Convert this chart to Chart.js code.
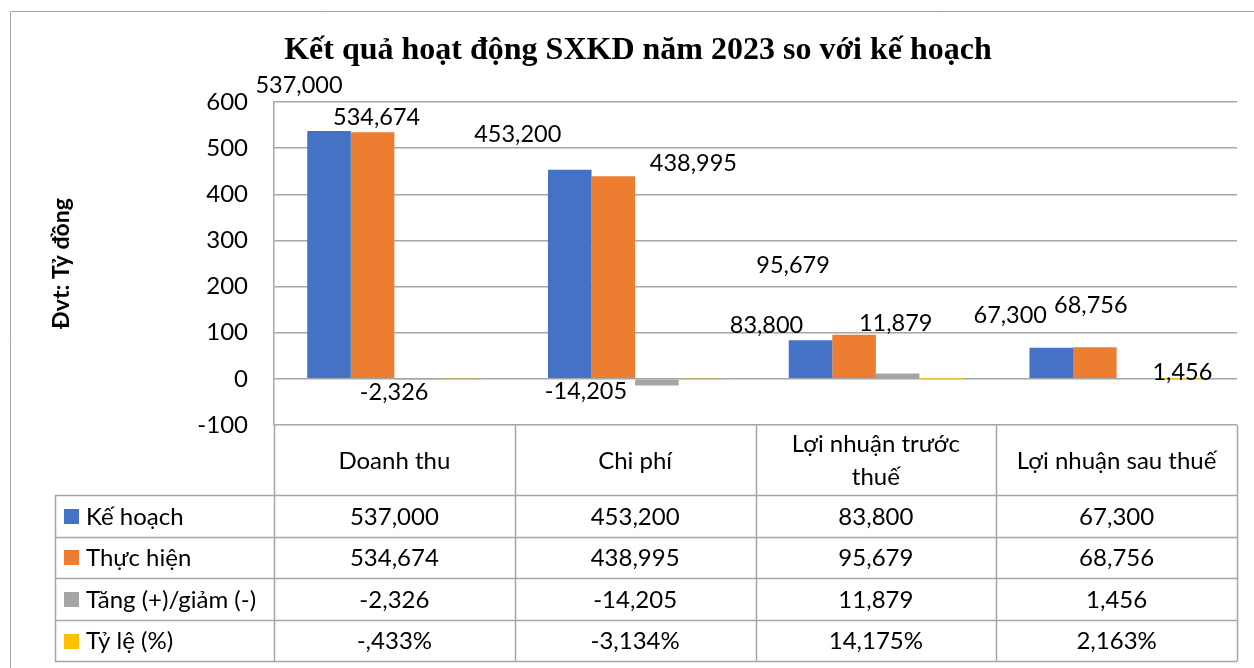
<!DOCTYPE html>
<html>
<head>
<meta charset="utf-8">
<script src="https://cdn.jsdelivr.net/npm/chart.js@4"></script>
<style>
  html, body { margin: 0; padding: 0; background: #fff; }
  #wrap { width: 1254px; height: 668px; }
</style>
</head>
<body>
<div id="wrap"><canvas id="bieuDo"></canvas></div>
<script>
// du lieu doc tu hinh (ty dong)
const hangMuc = ['Doanh thu', 'Chi phí', ['Lợi nhuận trước', 'thuế'], 'Lợi nhuận sau thuế'];
const keHoach = [537.000, 453.200, 83.800, 67.300];
const thucHien = [534.674, 438.995, 95.679, 68.756];
const tangGiam = [-2.326, -14.205, 11.879, 1.456];
const tyLe = [-0.433, -3.134, 14.175, 2.163]; // %
const mocTruc = [-100, 0, 100, 200, 300, 400, 500, 600];

// nhan du lieu bi keo lech trong Excel: [dx, dy] so voi dinh cot
const lechNhan = [
  [[-30, -46], [-52, -35], [-44, -15], [-41, -32]],
  [[4, -15], [80, -13], [-61, -69], [-4, -42]],
  [[-22, 12], [-71, 6], [-2, -50], [44, -6]]
];

const mau = ['#4472C4', '#ED7D31', '#A5A5A5', '#FFC000'];
const FONT = 'Lato, "Open Sans", sans-serif';

function soVN(v) {
  let s = Math.abs(v).toFixed(3).replace('.', ',');
  return (v < 0 ? '-' : '') + s;
}
function phanTram(v) {
  let s = Math.abs(v).toFixed(3).replace('.', ',');
  if (s.startsWith('0,')) s = s.slice(1);
  return (v < 0 ? '-' : '') + s + '%';
}

const khungNen = {
  id: 'khungNen',
  beforeDraw(chart) {
    const c = chart.ctx;
    c.save();
    c.fillStyle = '#fff';
    c.fillRect(0, 0, chart.width, chart.height);
    c.strokeStyle = '#A6A6A6';
    c.lineWidth = 1;
    c.beginPath();
    c.moveTo(10.5, chart.height);
    c.lineTo(10.5, 11.5);
    c.lineTo(chart.width, 11.5);
    c.stroke();
    // tieu de
    c.fillStyle = '#000';
    c.font = 'bold 32px "Liberation Serif", "Times New Roman", serif';
    c.textAlign = 'center';
    c.textBaseline = 'middle';
    c.fillText('Kết quả hoạt động SXKD năm 2023 so với kế hoạch', 638, 51);
    c.restore();
  }
};

const nhanVaBang = {
  id: 'nhanVaBang',
  afterDatasetsDraw(chart) {
    const c = chart.ctx;
    const area = chart.chartArea;
    const x = chart.scales.x;
    c.save();
    c.fillStyle = '#000';
    c.font = '23.5px ' + FONT;
    c.textAlign = 'center';
    c.textBaseline = 'middle';
    // nhan du lieu cho 3 chuoi dau
    for (let d = 0; d < 3; d++) {
      const meta = chart.getDatasetMeta(d);
      meta.data.forEach((bar, i) => {
        const v = chart.data.datasets[d].data[i];
        const off = lechNhan[d][i];
        c.fillText(soVN(v), bar.x + off[0], bar.y + off[1]);
      });
    }

    // bang du lieu
    c.font = '24px ' + FONT;
    const n = hangMuc.length;
    const rong = (area.right - area.left) / n;
    const trai = 55;
    const dauBang = area.bottom;
    const hangDau = 70;
    const caoHang = 41.6;
    const day = dauBang + hangDau + caoHang * 4;
    c.strokeStyle = '#A6A6A6';
    c.lineWidth = 1.5;
    c.beginPath();
    // cot doc
    for (let i = 0; i <= n; i++) {
      const xx = Math.round(area.left + rong * i) + 0.5;
      c.moveTo(xx, dauBang);
      c.lineTo(xx, day);
    }
    c.moveTo(trai + 0.5, dauBang + hangDau);
    c.lineTo(trai + 0.5, day);
    for (let r = 0; r <= 4; r++) {
      const yy = Math.round(dauBang + hangDau + caoHang * r) + 0.5;
      c.moveTo(trai, yy);
      c.lineTo(area.right, yy);
    }
    c.stroke();

    // tieu de cot
    hangMuc.forEach((ten, i) => {
      const cx = x.getPixelForValue(i);
      const dong = Array.isArray(ten) ? ten : [ten];
      const cy = dauBang + hangDau / 2 + 1;
      dong.forEach((t, k) => {
        c.fillText(t, cx, cy + (k - (dong.length - 1) / 2) * 33);
      });
    });

    // cac hang
    const tenChuoi = chart.data.datasets.map(ds => ds.label);
    const giaTri = [keHoach.map(soVN), thucHien.map(soVN), tangGiam.map(soVN), tyLe.map(phanTram)];
    for (let r = 0; r < 4; r++) {
      const cy = dauBang + hangDau + caoHang * (r + 0.5) + 1;
      c.fillStyle = mau[r];
      c.fillRect(64, Math.round(cy - 8), 15, 15);
      c.fillStyle = '#000';
      c.textAlign = 'left';
      c.fillText(tenChuoi[r], 86, cy);
      c.textAlign = 'center';
      giaTri[r].forEach((s, i) => {
        c.fillText(s, x.getPixelForValue(i), cy);
      });
    }
    c.restore();
  }
};

new Chart(document.getElementById('bieuDo'), {
  type: 'bar',
  data: {
    labels: hangMuc,
    datasets: [
      { label: 'Kế hoạch', data: keHoach, backgroundColor: mau[0] },
      { label: 'Thực hiện', data: thucHien, backgroundColor: mau[1] },
      { label: 'Tăng (+)/giảm (-)', data: tangGiam, backgroundColor: mau[2] },
      { label: 'Tỷ lệ (%)', data: tyLe.map(v => v / 100), backgroundColor: mau[3] }
    ]
  },
  options: {
    responsive: true,
    maintainAspectRatio: false,
    animation: false,
    categoryPercentage: 0.724,
    barPercentage: 1,
    layout: { padding: { left: 46, top: 102, right: 17, bottom: 243 } },
    plugins: {
      legend: { display: false },
      title: { display: false },
      tooltip: { enabled: false }
    },
    scales: {
      x: { display: false },
      y: {
        min: -100,
        max: 600,
        afterBuildTicks(s) { s.ticks = mocTruc.map(v => ({ value: v })); },
        afterFit(s) { s.width = 228; },
        ticks: {
          padding: 26,
          color: '#000',
          font: { family: FONT, size: 24 }
        },
        grid: { color: '#A6A6A6', lineWidth: 1.5, drawTicks: false },
        border: { display: true, color: '#A6A6A6', width: 1.5 },
        title: {
          display: true,
          text: 'Đvt: Tỷ đồng',
          color: '#000',
          padding: { top: 2, bottom: 2 },
          font: { family: FONT, size: 23, weight: 'bold' }
        }
      }
    }
  },
  plugins: [khungNen, nhanVaBang]
});
</script>
</body>
</html>
